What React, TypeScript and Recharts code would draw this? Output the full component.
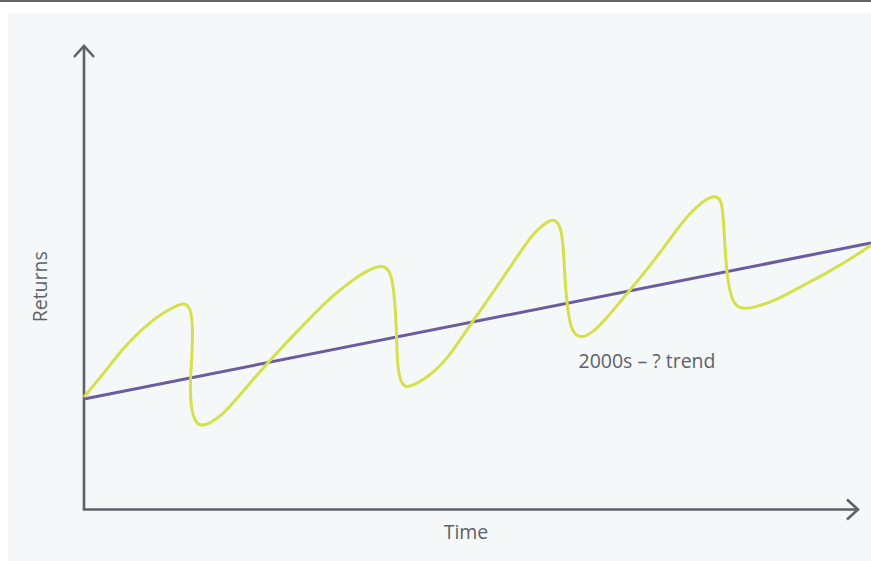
import { LineChart, Line, XAxis, YAxis, ReferenceLine, ReferenceDot } from 'recharts'

// time runs 0..787, returns 0..464 (arbitrary units)
const cycleTime = [
    0, 20, 40, 60, 80, 94, 100, 106, 109, 108, 106, 107, 112, 117, 127, 140, 150, 183, 226, 246,
    266, 279, 296, 304, 309, 312, 313, 314, 319, 326, 343, 363, 386, 401, 416, 433, 449, 463,
    469, 475, 479, 481, 484, 488, 496, 506, 523, 536, 556, 576, 596, 609, 623, 631, 637, 639,
    641, 643, 648, 656, 669, 693, 716, 743, 773, 787,
]
const cycleReturns = [
    113, 137, 163, 183, 198, 205, 207, 203, 187, 153, 127, 100, 87, 84, 87, 97, 108, 147, 192, 212,
    228, 237, 245, 242, 230, 193, 160, 137, 123, 123, 132, 150, 185, 206, 228, 253, 277, 288,
    291, 287, 273, 227, 197, 178, 172, 175, 192, 208, 232, 257, 285, 300, 312, 314, 311, 297,
    263, 233, 208, 201, 202, 210, 223, 237, 255, 265,
]
const trendTime = [0, 787]
const trendReturns = [111, 267]

const cycleData = cycleTime.map((t, i) => ({ t, v: cycleReturns[i] }))
const trendData = trendTime.map((t, i) => ({ t, v: trendReturns[i] }))

const AXIS = '#5e6268'
const FONT = '"Open Sans", sans-serif'

function YArrow(p: any) {
    const { x1, y1, x2, y2 } = p
    const topY = Math.min(y1, y2)
    const botY = Math.max(y1, y2)
    const mid = (topY + botY) / 2 + 9
    return (
        <g>
            <line x1={x1} y1={botY} x2={x2} y2={topY} stroke={AXIS} strokeWidth={2.6} />
            <polyline points={`${x1 - 10},${topY + 11} ${x1},${topY} ${x1 + 10},${topY + 11}`}
                fill="none" stroke={AXIS} strokeWidth={2.6} />
            <text x={x1 - 45} y={mid} transform={`rotate(-90 ${x1 - 45} ${mid})`} textAnchor="middle"
                dominantBaseline="central" fill={AXIS} fontSize={19.5} fontFamily={FONT}>Returns</text>
        </g>
    )
}

function XArrow(p: any) {
    const { x1, y1, x2 } = p
    return (
        <g>
            <line x1={x1 - 1.3} y1={y1} x2={x2} y2={y1} stroke={AXIS} strokeWidth={2.6} />
            <polyline points={`${x2 - 11},${y1 - 10} ${x2},${y1} ${x2 - 11},${y1 + 10}`}
                fill="none" stroke={AXIS} strokeWidth={2.6} />
            <text x={(x1 + x2) / 2 - 5} y={y1 + 22} textAnchor="middle" dominantBaseline="central"
                fill={AXIS} fontSize={19.5} fontFamily={FONT}>Time</text>
        </g>
    )
}

export default function App() {
    return (
        <div style={{ position: 'relative', width: 871, height: 561, background: '#fff', overflow: 'hidden' }}>
            <style>{'body{margin:0}'}</style>
            <div style={{ position: 'absolute', left: 0, top: 0, width: 871, height: 2, background: '#62666c' }} />
            <div style={{ position: 'absolute', left: 8, top: 14, width: 863, height: 547, background: '#f4f8f9' }} />
            <div style={{ position: 'absolute', left: 0, top: 0 }}>
                <LineChart width={871} height={561} margin={{ top: 46, right: 0, bottom: 51, left: 84 }}>
                    <XAxis type="number" dataKey="t" domain={[0, 787]} hide />
                    <YAxis type="number" dataKey="v" domain={[0, 464]} hide />
                    <ReferenceLine segment={[{ x: 0, y: 0.5 }, { x: 0, y: 464 }]} shape={YArrow} />
                    <ReferenceLine segment={[{ x: 0, y: 0.5 }, { x: 774, y: 0.5 }]} shape={XArrow} />
                    <Line data={trendData} dataKey="v" type="linear" stroke="#6b5b9f" strokeWidth={3}
                        dot={false} activeDot={false} isAnimationActive={false} />
                    <Line data={cycleData} dataKey="v" type="basis" stroke="#d5e04b" strokeWidth={3}
                        dot={false} activeDot={false} isAnimationActive={false} />
                    <ReferenceDot x={563} y={149} r={0} fill="none" stroke="none"
                        label={{ value: '2000s – ? trend', position: 'center', fill: AXIS, fontSize: 19.5, fontFamily: FONT }} />
                </LineChart>
            </div>
        </div>
    )
}
